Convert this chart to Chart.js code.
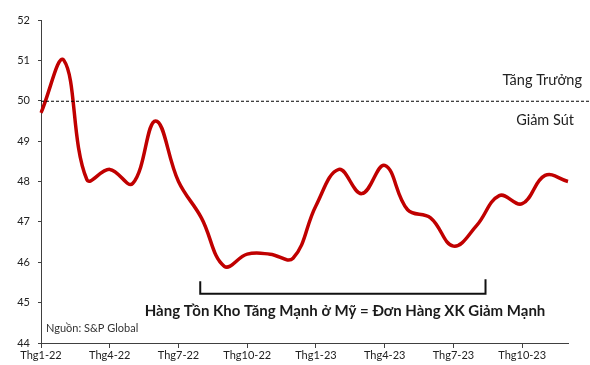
<!DOCTYPE html>
<html>
<head>
<meta charset="utf-8">
<script src="https://cdn.jsdelivr.net/npm/chart.js@4/dist/chart.umd.min.js"></script>
<style>
  html, body { margin: 0; padding: 0; background: #fff; }
  #wrap { width: 590px; height: 365px; position: relative; }
</style>
</head>
<body>
<div id="wrap"><canvas id="pmiChart"></canvas></div>
<script>
// monthly index, Jan-22 .. Dec-23
const months = [
  "Thg1-22", "Thg2-22", "Thg3-22", "Thg4-22", "Thg5-22", "Thg6-22",
  "Thg7-22", "Thg8-22", "Thg9-22", "Thg10-22", "Thg11-22", "Thg12-22",
  "Thg1-23", "Thg2-23", "Thg3-23", "Thg4-23", "Thg5-23", "Thg6-23",
  "Thg7-23", "Thg8-23", "Thg9-23", "Thg10-23", "Thg11-23", "Thg12-23"
];
const pmiValues = [
  49.7, 51.0, 48.05, 48.3, 47.95, 49.5,
  48.0, 47.1, 45.9, 46.2, 46.2, 46.1,
  47.4, 48.3, 47.7, 48.4, 47.3, 47.1,
  46.4, 46.9, 47.65, 47.45, 48.15, 48.0
];
const yTicks = [44, 45, 46, 47, 48, 49, 50, 51, 52];
const threshold = 50;

const FONT = "Lato, 'Noto Sans', sans-serif";
const AXIS = "#404040";

const notes = {
  id: "notes",
  afterDatasetsDraw(chart) {
    const { ctx, chartArea: a, scales: { x, y } } = chart;
    ctx.save();

    // 50 line: expansion / contraction
    const y50 = y.getPixelForValue(threshold);
    ctx.strokeStyle = "#000";
    ctx.lineWidth = 1;
    ctx.setLineDash([3, 2]);
    ctx.beginPath();
    ctx.moveTo(a.left, y50 + 0.5);
    ctx.lineTo(chart.width, y50 + 0.5);
    ctx.stroke();
    ctx.setLineDash([]);

    ctx.fillStyle = "#222";
    ctx.font = "14.5px " + FONT;
    ctx.textAlign = "right";
    ctx.textBaseline = "middle";
    ctx.fillText("Tăng Trưởng", 582, y50 - 20);
    ctx.fillText("Giảm Sút", 574, y50 + 20);

    // bracket under the trough
    const bx0 = x.getPixelForValue(6.95), bx1 = x.getPixelForValue(19.4);
    const by = y.getPixelForValue(45.22);
    ctx.strokeStyle = "#111";
    ctx.lineWidth = 2;
    ctx.beginPath();
    ctx.moveTo(bx0, y.getPixelForValue(45.53));
    ctx.lineTo(bx0, by);
    ctx.lineTo(bx1, by);
    ctx.lineTo(bx1, y.getPixelForValue(45.58));
    ctx.stroke();

    ctx.fillStyle = "#1a1a1a";
    ctx.font = "bold 15px " + FONT;
    ctx.textAlign = "center";
    ctx.fillText("Hàng Tồn Kho Tăng Mạnh ở Mỹ = Đơn Hàng XK Giảm Mạnh", 345, y.getPixelForValue(44.8));

    ctx.fillStyle = "#333";
    ctx.font = "11px " + FONT;
    ctx.textAlign = "left";
    ctx.fillText("Nguồn: S&P Global", a.left + 5, y.getPixelForValue(44.35));

    ctx.restore();
  }
};

new Chart(document.getElementById("pmiChart"), {
  type: "line",
  data: {
    labels: months,
    datasets: [{
      data: pmiValues,
      borderColor: "#c00000",
      borderWidth: 3.5,
      pointRadius: 0,
      tension: 0.4,
      fill: false
    }]
  },
  options: {
    responsive: true,
    maintainAspectRatio: false,
    animation: false,
    layout: { padding: { top: 20, right: 22, left: 0, bottom: 0 } },
    plugins: { legend: { display: false }, tooltip: { enabled: false } },
    scales: {
      x: {
        offset: false,
        afterFit: s => { s.height = 22; },
        border: { display: true, color: AXIS, width: 1 },
        grid: {
          drawOnChartArea: false,
          tickLength: 5,
          tickColor: c => (c.index % 3 === 0 ? AXIS : "transparent")
        },
        ticks: {
          autoSkip: false,
          maxRotation: 0,
          padding: 1,
          color: "#222",
          font: { family: FONT, size: 11 },
          callback: (v, i) => (i % 3 === 0 ? months[i] : "")
        }
      },
      y: {
        min: yTicks[0],
        max: yTicks[yTicks.length - 1],
        afterFit: s => { s.width = 41; },
        afterBuildTicks: s => { s.ticks = yTicks.map(v => ({ value: v })); },
        border: { display: true, color: AXIS, width: 1 },
        grid: { drawOnChartArea: false, tickLength: 3, tickColor: AXIS },
        ticks: {
          padding: 8,
          color: "#222",
          font: { family: FONT, size: 11 }
        }
      }
    }
  },
  plugins: [notes]
});
</script>
</body>
</html>
